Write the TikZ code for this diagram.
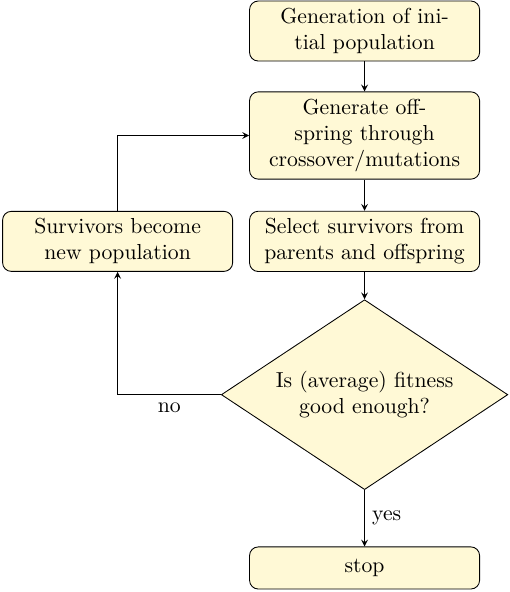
\documentclass[tikz,border=0pt]{standalone}
\usepackage{tikz}
\usetikzlibrary{shapes,arrows,positioning,calc}
\definecolor{boxfill}{RGB}{255,249,214}

\begin{document}
\begin{tikzpicture}[
    node distance=13.8pt,
    block/.style={draw, fill=boxfill, rounded corners, text width=3.3cm, minimum width=106pt, align=center},
    decision/.style={diamond, draw, fill=boxfill, aspect=1.5, text width=3cm, inner sep=1pt, minimum width=132pt, minimum height=87.5pt, align=center},
    arrow/.style={->, >=stealth}
]
    \useasboundingbox (-168pt,14.3pt) rectangle (67pt,-258.5pt);
    \node[block] (init) {Generation of ini-\\tial population};
    \node[block, below=of init] (offspring) {Generate offspring through crossover/mutations};
    \node[block, below=14.4pt of offspring] (select) {Select survivors from parents and offspring};
    \node[block, left=7.4pt of select] (survivors) {Survivors become new population};
    \node[decision, below=12.6pt of select] (fitness) {Is (average) fitness good enough?};
    \node[block, below=26pt of fitness, minimum height=19.4pt] (stop) {stop};

    \draw[arrow] (init) -- (offspring);
    \draw[arrow] (offspring) -- (select);
    \draw[arrow] (select) -- (fitness);
    \draw[arrow] (fitness) -- node[right] {yes} (stop);
    \draw[arrow] (fitness.west) -| node[below, pos=0.25] {no} (survivors.south);
    \draw[arrow] (survivors.north) |- (offspring.west);
\end{tikzpicture}
\end{document}
